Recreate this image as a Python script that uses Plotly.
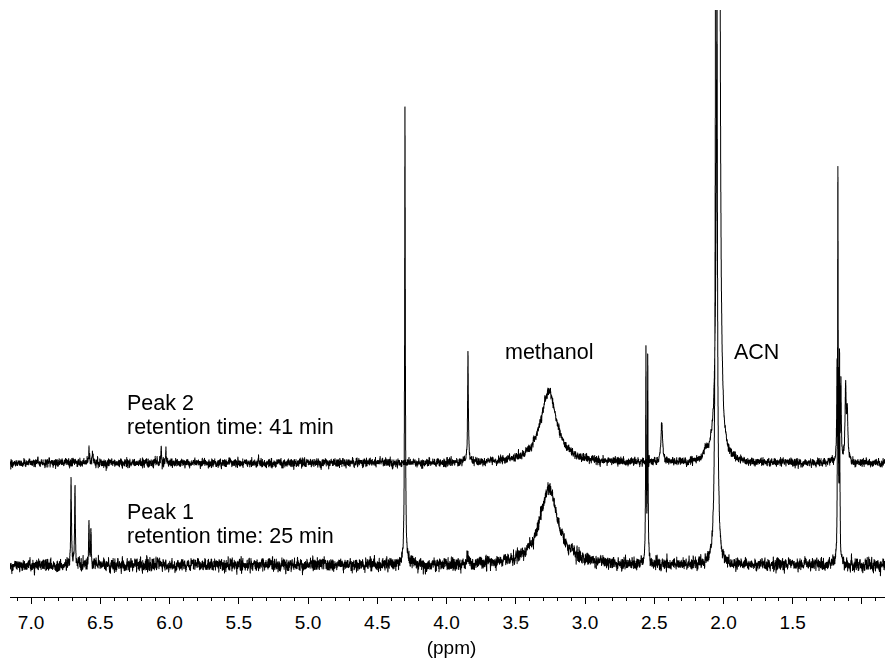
import numpy as np
import plotly.graph_objects as go

# ---------------- data ----------------
# chemical-shift range of the recorded spectra (ppm)
shift_start, shift_end, n_points = 7.152, 0.776, 9000

# Peak 1 (retention time 25 min): line positions (ppm), heights (a.u.), FWHM (ppm)
peak1_shift  = [6.711, 6.683, 6.582, 6.568, 4.300, 3.845, 3.262, 2.560, 2.547, 2.052, 1.174, 1.162]
peak1_height = [85,    78,    40,    36,    455,   9,     76,    206,   203,   3000,  395,   195]
peak1_fwhm   = [0.006, 0.006, 0.006, 0.006, 0.006, 0.010, 0.160, 0.005, 0.005, 0.006, 0.005, 0.005]
peak1_offset = 32        # baseline level of the lower trace
peak1_noise  = 3.0       # baseline noise level (a.u.)

# Peak 2 (retention time 41 min)
peak2_shift  = [6.582, 6.556, 6.060, 6.026, 3.845, 3.262, 2.445, 2.130, 2.036, 1.180, 1.166, 1.152, 1.118, 1.106]
peak2_height = [14,    12,    16,    14,    116,   72,    38,    8,     5000,  98,    90,    78,    72,    48]
peak2_fwhm   = [0.006, 0.006, 0.005, 0.005, 0.006, 0.140, 0.014, 0.030, 0.008, 0.006, 0.006, 0.006, 0.010, 0.010]
peak2_offset = 134
peak2_noise  = 2.0

tick_values = [7.0, 6.5, 6.0, 5.5, 5.0, 4.5, 4.0, 3.5, 3.0, 2.5, 2.0, 1.5, 1.0]
tick_labels = ["7.0", "6.5", "6.0", "5.5", "5.0", "4.5", "4.0", "3.5", "3.0", "2.5", "2.0", "1.5", ""]

# ---------------- build spectra (Lorentzian lines + baseline noise) ----------------
ppm = np.linspace(shift_start, shift_end, n_points)
rng = np.random.default_rng(7)


def spectrum(shifts, heights, fwhms, offset, noise):
    y = np.zeros_like(ppm)
    for s, h, w in zip(shifts, heights, fwhms):
        g = w / 2.0
        y += h * g * g / ((ppm - s) ** 2 + g * g)
    n = rng.normal(0, 1, ppm.size)
    n = np.convolve(n, np.ones(3) / 3 ** 0.5, mode="same")
    return y + offset + noise * n


spec1 = spectrum(peak1_shift, peak1_height, peak1_fwhm, peak1_offset, peak1_noise)
spec2 = spectrum(peak2_shift, peak2_height, peak2_fwhm, peak2_offset, peak2_noise)

fig = go.Figure()
for spec in (spec2, spec1):
    fig.add_trace(go.Scattergl(x=ppm, y=spec, mode="lines",
                               line=dict(color="black", width=1),
                               hoverinfo="skip", showlegend=False))

FAM = "Liberation Sans, Arial, sans-serif"
font = dict(family=FAM, size=21.5, color="black")

annotations = [
    ("Peak 2", 6.32, 194),
    ("retention time: 41 min", 6.32, 170),
    ("Peak 1", 6.32, 85),
    ("retention time: 25 min", 6.32, 61),
    ("methanol", 3.59, 245),
    ("ACN", 1.94, 245),
]
for text, x, y in annotations:
    fig.add_annotation(x=x, y=y, xref="x", yref="y", text=text, showarrow=False,
                       xanchor="left", yanchor="middle", font=font)

# the page body has an 8 px margin, so the figure is shrunk and shifted accordingly
fig.update_layout(
    width=885, height=653,
    margin=dict(l=2, r=0, t=2, b=64, autoexpand=False),
    paper_bgcolor="white", plot_bgcolor="white",
    font=font,
    xaxis=dict(
        range=[shift_start, shift_end],
        showgrid=False, zeroline=False,
        showline=True, linecolor="black", linewidth=1,
        ticks="outside", ticklen=6, tickwidth=1, tickcolor="black",
        tickmode="array", tickvals=tick_values, ticktext=tick_labels,
        ticklabelstandoff=2,
        tickfont=dict(family=FAM, size=19, color="black"),
        minor=dict(dtick=0.1, tick0=0, ticks="outside", ticklen=3, tickcolor="black", tickwidth=1, showgrid=False),
        title=dict(text="(ppm)", standoff=8, font=dict(family=FAM, size=19, color="black")),
        automargin=False,
    ),
    yaxis=dict(range=[0, 587], visible=False, showgrid=False, zeroline=False),
)

fig.write_html("out.html")
